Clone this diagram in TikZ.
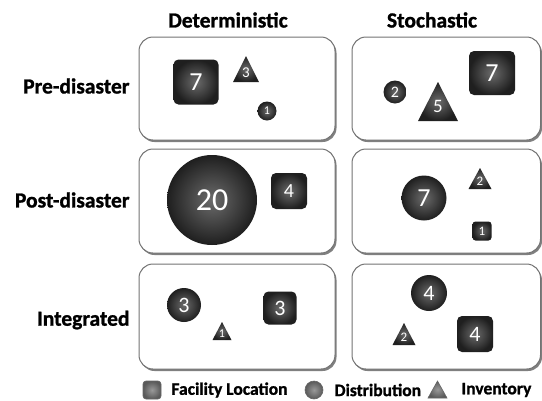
\documentclass[tikz,border=0pt]{standalone}
\usepackage{fontspec}
\setmainfont{Carlito}[BoldFeatures={FakeBold=1.2}]
\newcommand\trishape[7]{%
  \shade[inner color=black!58, outer color=black!88] (#2-#5,#4) -- (#2,#3) -- (#2+#5,#4) -- cycle;
  \node[text=white, font=\fontsize{#6}{#6}\selectfont, inner sep=0pt] (#1) at (#2, {#3+0.64*(#4-#3)}) {#7};
}
\begin{document}
\begin{tikzpicture}[x=1pt,y=-1pt,
  box/.style={draw=black!55, line width=1pt, rounded corners=14pt, fill=white},
  boxshadow/.style={fill=black!50, rounded corners=14pt},
  head/.style={font=\bfseries\fontsize{21.5}{24}\selectfont},
  rowlab/.style={font=\bfseries\fontsize{21.5}{24}\selectfont, anchor=east},
  leglab/.style={font=\bfseries\fontsize{17.5}{20}\selectfont, anchor=west},
  fl/.style={rectangle, rounded corners=5pt, inner color=black!58, outer color=black!88, text=white, inner sep=0pt},
  di/.style={circle, inner color=black!58, outer color=black!88, text=white, inner sep=0pt},
  lg/.style={inner color=black!40, outer color=black!65, draw=black!60, line width=0.6pt, inner sep=0pt}
]
\useasboundingbox (0,0) rectangle (542,400);
% headers
\node[head] (hdet) at (228,20) {Deterministic};
\node[head] (hsto) at (432,20) {Stochastic};
\node[rowlab] (rpre) at (133,86) {Pre-disaster};
\node[rowlab] (rpost) at (133,200) {Post-disaster};
\node[rowlab] (rint) at (133,320) {Integrated};
% boxes
\foreach \t/\b in {37/140, 149/253, 264/369}{
  \fill[boxshadow] (140.5,\t+2) rectangle (336.5,\b+2);
  \draw[box] (139,\t) rectangle (335,\b);
  \fill[boxshadow] (353.5,\t+2) rectangle (542,\b+2);
  \draw[box] (352,\t) rectangle (540.5,\b);
}
% Pre-disaster, deterministic
\node[fl, minimum size=45pt, font=\fontsize{26}{26}\selectfont] (a1) at (196,82) {7};
\trishape{a2}{246}{56}{82}{13}{15}{3}
\node[di, minimum size=19pt, font=\fontsize{12}{12}\selectfont] (a3) at (267,111) {1};
% Pre-disaster, stochastic
\node[di, minimum size=23pt, font=\fontsize{16}{16}\selectfont] (b1) at (395,92) {2};
\trishape{b2}{438}{82}{121}{20}{19}{5}
\node[fl, minimum width=46pt, minimum height=44pt, font=\fontsize{26}{26}\selectfont] (b3) at (492,73) {7};
% Post-disaster, deterministic
\node[di, minimum size=90pt, font=\fontsize{32}{32}\selectfont] (c1) at (212,200) {20};
\node[fl, minimum size=36pt, font=\fontsize{20}{20}\selectfont] (c2) at (289,191) {4};
% Post-disaster, stochastic
\node[di, minimum size=45pt, font=\fontsize{26}{26}\selectfont] (d1) at (424,198) {7};
\trishape{d2}{480}{168}{189}{11.5}{13}{2}
\node[fl, minimum size=19pt, rounded corners=3pt, font=\fontsize{13}{13}\selectfont] (d3) at (482,231) {1};
% Integrated, deterministic
\node[di, minimum size=34pt, font=\fontsize{22}{22}\selectfont] (e1) at (184,305) {3};
\trishape{e2}{222}{322}{340}{9.5}{12}{1}
\node[fl, minimum size=33pt, font=\fontsize{22}{22}\selectfont] (e3) at (280,308) {3};
% Integrated, stochastic
\node[di, minimum size=36pt, font=\fontsize{22}{22}\selectfont] (f1) at (429,293) {4};
\trishape{f2}{404}{323}{345}{11.5}{13}{2}
\node[fl, minimum size=36pt, font=\fontsize{22}{22}\selectfont] (f3) at (475,334) {4};
% legend
\node[lg, rectangle, rounded corners=3pt, minimum size=18pt] (lsq) at (152,390) {};
\node[leglab] (lsqt) at (168,390) {Facility Location};
\node[lg, circle, minimum size=18pt] (lci) at (314,390) {};
\node[leglab] (lcit) at (331,390) {Distribution};
\shade[inner color=black!40, outer color=black!65, draw=black!60, line width=0.6pt] (428,398) -- (437.5,381) -- (447,398) -- cycle;
\node[leglab] (ltrt) at (458,390) {Inventory};
\end{tikzpicture}
\end{document}
